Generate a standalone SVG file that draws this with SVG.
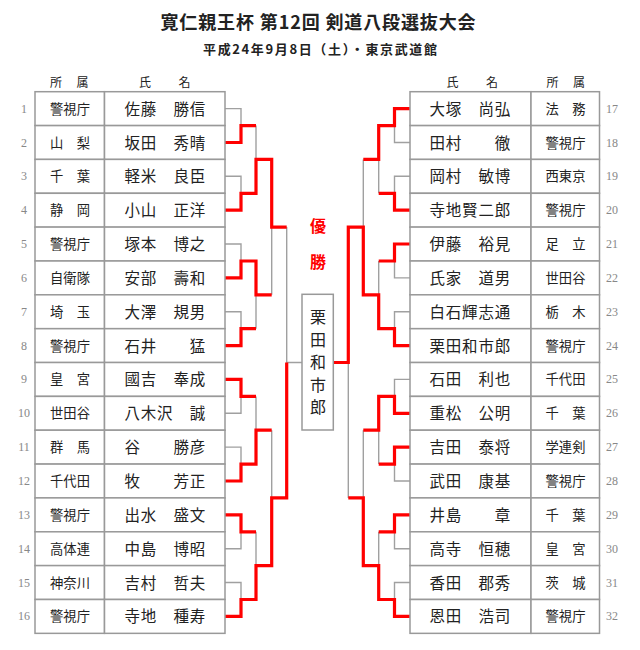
<svg xmlns="http://www.w3.org/2000/svg" width="640" height="650" viewBox="0 0 640 650">
<style>
text{font-family:"Noto Sans CJK JP","Noto Sans CJK SC",sans-serif;fill:#222}
.title{font-size:18px;font-weight:bold}
.sub{font-size:13px;font-weight:bold}
.hd{font-size:12px;letter-spacing:1.2px}
.cell{fill:#fff;stroke:#999;stroke-width:1.5}
.num{font-family:"Liberation Serif",serif;font-size:12px;fill:#888;text-anchor:middle}
.aff{font-size:13.3px;text-anchor:middle}
.nm{font-size:15.5px;letter-spacing:0.8px}
.g{fill:none;stroke:#a0a0a0;stroke-width:1.4}
.r{fill:none;stroke:#ff0000;stroke-width:3.2;stroke-linejoin:miter}
.win{font-size:16px;fill:#ff0000;font-weight:bold;text-anchor:middle}
.ch{font-size:16px;text-anchor:middle}
</style>
<rect width="640" height="650" fill="#fff"/>
<text class="title" x="318" y="28.5" text-anchor="middle" textLength="315" lengthAdjust="spacing">寛仁親王杯 第12回 剣道八段選抜大会</text>
<text class="sub" x="320" y="54" text-anchor="middle" textLength="234" lengthAdjust="spacing">平成24年9月8日（土）・東京武道館</text>
<g id="headers">
<text class="hd" x="50" y="87">所　属</text>
<text class="hd" x="139" y="87">氏　　名</text>
<text class="hd" x="446.5" y="87">氏　　名</text>
<text class="hd" x="546.5" y="87">所　属</text>
</g>
<g id="connectors">
<path class="g" d="M225,108.6H241V142.5H225M225,176.3H241V210.2H225M225,244H241V277.9H225M225,311.7H241V345.6H225M225,379.4H241V413.3H225M225,447.1H241V481H225M225,514.8H241V548.7H225M225,582.5H241V616.4H225M256,125.6V193.3M256,261V328.7M256,396.4V464.1M256,531.8V599.5M271.7,159.4V294.8M271.7,430.2V565.6M286.7,227.1V497.9M286.7,362.5H302"/>
<path class="g" d="M410,108.6H394.5V142.5H410M410,176.3H394.5V210.2H410M410,244H394.5V277.9H410M410,311.7H394.5V345.6H410M410,379.4H394.5V413.3H410M410,447.1H394.5V481H410M410,514.8H394.5V548.7H410M410,582.5H394.5V616.4H410M378.7,125.6V193.3M378.7,261V328.7M378.7,396.4V464.1M378.7,531.8V599.5M363.3,159.4V294.8M363.3,430.2V565.6M348.3,227.1V497.9"/>
<path class="r" d="M225,142.5H241V125.6H256"/>
<path class="r" d="M225,210.2H241V193.3H256V159.4H271.7V227.1H286.7"/>
<path class="r" d="M225,277.9H241V261H256V294.8H271.7"/>
<path class="r" d="M225,345.6H241V328.7H256"/>
<path class="r" d="M225,379.4H241V396.4H256"/>
<path class="r" d="M225,481H241V464.1H256V430.2H271.7"/>
<path class="r" d="M225,514.8H241V531.8H256"/>
<path class="r" d="M225,616.4H241V599.5H256V565.6H271.7V497.9H286.7V362.5"/>
<path class="r" d="M410,108.6H394.5V125.6H378.7V159.4H363.3"/>
<path class="r" d="M410,210.2H394.5V193.3H378.7"/>
<path class="r" d="M410,244H394.5V261H378.7"/>
<path class="r" d="M410,345.6H394.5V328.7H378.7V294.8H363.3V227.1H348.3V362.5H333.3"/>
<path class="r" d="M410,413.3H394.5V396.4H378.7V430.2H363.3"/>
<path class="r" d="M410,447.1H394.5V464.1H378.7"/>
<path class="r" d="M410,514.8H394.5V531.8H378.7"/>
<path class="r" d="M410,616.4H394.5V599.5H378.7V565.6H363.3V497.9H348.3"/>
</g>
<g id="winner-label"><text class="win" x="318" y="231.5">優</text><text class="win" x="318" y="267.5">勝</text></g>
<g id="champion">
<rect class="cell" x="302" y="294.3" width="31.3" height="135.7"/>
<text class="ch" x="318" y="323">栗</text><text class="ch" x="318" y="345.5">田</text><text class="ch" x="318" y="368">和</text><text class="ch" x="318" y="390.5">市</text><text class="ch" x="318" y="413">郎</text>
</g>
<g id="p1"><rect class="cell" x="35" y="91.7" width="69.5" height="33.85"/><rect class="cell" x="104.5" y="91.7" width="120.5" height="33.85"/><text class="num" x="24" y="112.6">1</text><text class="aff" x="70" y="113.6">警視庁</text><text class="nm" x="124.5" y="114.6">佐藤　勝信</text></g>
<g id="p2"><rect class="cell" x="35" y="125.6" width="69.5" height="33.85"/><rect class="cell" x="104.5" y="125.6" width="120.5" height="33.85"/><text class="num" x="24" y="146.5">2</text><text class="aff" x="70" y="147.5">山　梨</text><text class="nm" x="124.5" y="148.5">坂田　秀晴</text></g>
<g id="p3"><rect class="cell" x="35" y="159.4" width="69.5" height="33.85"/><rect class="cell" x="104.5" y="159.4" width="120.5" height="33.85"/><text class="num" x="24" y="180.3">3</text><text class="aff" x="70" y="181.3">千　葉</text><text class="nm" x="124.5" y="182.3">軽米　良臣</text></g>
<g id="p4"><rect class="cell" x="35" y="193.3" width="69.5" height="33.85"/><rect class="cell" x="104.5" y="193.3" width="120.5" height="33.85"/><text class="num" x="24" y="214.2">4</text><text class="aff" x="70" y="215.2">静　岡</text><text class="nm" x="124.5" y="216.2">小山　正洋</text></g>
<g id="p5"><rect class="cell" x="35" y="227.1" width="69.5" height="33.85"/><rect class="cell" x="104.5" y="227.1" width="120.5" height="33.85"/><text class="num" x="24" y="248">5</text><text class="aff" x="70" y="249">警視庁</text><text class="nm" x="124.5" y="250">塚本　博之</text></g>
<g id="p6"><rect class="cell" x="35" y="261" width="69.5" height="33.85"/><rect class="cell" x="104.5" y="261" width="120.5" height="33.85"/><text class="num" x="24" y="281.9">6</text><text class="aff" x="70" y="282.9">自衛隊</text><text class="nm" x="124.5" y="283.9">安部　壽和</text></g>
<g id="p7"><rect class="cell" x="35" y="294.8" width="69.5" height="33.85"/><rect class="cell" x="104.5" y="294.8" width="120.5" height="33.85"/><text class="num" x="24" y="315.7">7</text><text class="aff" x="70" y="316.7">埼　玉</text><text class="nm" x="124.5" y="317.7">大澤　規男</text></g>
<g id="p8"><rect class="cell" x="35" y="328.7" width="69.5" height="33.85"/><rect class="cell" x="104.5" y="328.7" width="120.5" height="33.85"/><text class="num" x="24" y="349.6">8</text><text class="aff" x="70" y="350.6">警視庁</text><text class="nm" x="124.5" y="351.6">石井　　猛</text></g>
<g id="p9"><rect class="cell" x="35" y="362.5" width="69.5" height="33.85"/><rect class="cell" x="104.5" y="362.5" width="120.5" height="33.85"/><text class="num" x="24" y="383.4">9</text><text class="aff" x="70" y="384.4">皇　宮</text><text class="nm" x="124.5" y="385.4">國吉　奉成</text></g>
<g id="p10"><rect class="cell" x="35" y="396.4" width="69.5" height="33.85"/><rect class="cell" x="104.5" y="396.4" width="120.5" height="33.85"/><text class="num" x="24" y="417.3">10</text><text class="aff" x="70" y="418.3">世田谷</text><text class="nm" x="124.5" y="419.3">八木沢　誠</text></g>
<g id="p11"><rect class="cell" x="35" y="430.2" width="69.5" height="33.85"/><rect class="cell" x="104.5" y="430.2" width="120.5" height="33.85"/><text class="num" x="24" y="451.1">11</text><text class="aff" x="70" y="452.1">群　馬</text><text class="nm" x="124.5" y="453.1">谷　　勝彦</text></g>
<g id="p12"><rect class="cell" x="35" y="464.1" width="69.5" height="33.85"/><rect class="cell" x="104.5" y="464.1" width="120.5" height="33.85"/><text class="num" x="24" y="485">12</text><text class="aff" x="70" y="486">千代田</text><text class="nm" x="124.5" y="487">牧　　芳正</text></g>
<g id="p13"><rect class="cell" x="35" y="497.9" width="69.5" height="33.85"/><rect class="cell" x="104.5" y="497.9" width="120.5" height="33.85"/><text class="num" x="24" y="518.8">13</text><text class="aff" x="70" y="519.8">警視庁</text><text class="nm" x="124.5" y="520.8">出水　盛文</text></g>
<g id="p14"><rect class="cell" x="35" y="531.8" width="69.5" height="33.85"/><rect class="cell" x="104.5" y="531.8" width="120.5" height="33.85"/><text class="num" x="24" y="552.7">14</text><text class="aff" x="70" y="553.7">高体連</text><text class="nm" x="124.5" y="554.7">中島　博昭</text></g>
<g id="p15"><rect class="cell" x="35" y="565.6" width="69.5" height="33.85"/><rect class="cell" x="104.5" y="565.6" width="120.5" height="33.85"/><text class="num" x="24" y="586.5">15</text><text class="aff" x="70" y="587.5">神奈川</text><text class="nm" x="124.5" y="588.5">吉村　哲夫</text></g>
<g id="p16"><rect class="cell" x="35" y="599.5" width="69.5" height="33.85"/><rect class="cell" x="104.5" y="599.5" width="120.5" height="33.85"/><text class="num" x="24" y="620.4">16</text><text class="aff" x="70" y="621.4">警視庁</text><text class="nm" x="124.5" y="622.4">寺地　種寿</text></g>
<g id="p17"><rect class="cell" x="410" y="91.7" width="121" height="33.85"/><rect class="cell" x="531" y="91.7" width="68.5" height="33.85"/><text class="num" x="612" y="112.6">17</text><text class="aff" x="565.5" y="113.6">法　務</text><text class="nm" x="429.5" y="114.6">大塚　尚弘</text></g>
<g id="p18"><rect class="cell" x="410" y="125.6" width="121" height="33.85"/><rect class="cell" x="531" y="125.6" width="68.5" height="33.85"/><text class="num" x="612" y="146.5">18</text><text class="aff" x="565.5" y="147.5">警視庁</text><text class="nm" x="429.5" y="148.5">田村　　徹</text></g>
<g id="p19"><rect class="cell" x="410" y="159.4" width="121" height="33.85"/><rect class="cell" x="531" y="159.4" width="68.5" height="33.85"/><text class="num" x="612" y="180.3">19</text><text class="aff" x="565.5" y="181.3">西東京</text><text class="nm" x="429.5" y="182.3">岡村　敏博</text></g>
<g id="p20"><rect class="cell" x="410" y="193.3" width="121" height="33.85"/><rect class="cell" x="531" y="193.3" width="68.5" height="33.85"/><text class="num" x="612" y="214.2">20</text><text class="aff" x="565.5" y="215.2">警視庁</text><text class="nm" x="429.5" y="216.2">寺地賢二郎</text></g>
<g id="p21"><rect class="cell" x="410" y="227.1" width="121" height="33.85"/><rect class="cell" x="531" y="227.1" width="68.5" height="33.85"/><text class="num" x="612" y="248">21</text><text class="aff" x="565.5" y="249">足　立</text><text class="nm" x="429.5" y="250">伊藤　裕見</text></g>
<g id="p22"><rect class="cell" x="410" y="261" width="121" height="33.85"/><rect class="cell" x="531" y="261" width="68.5" height="33.85"/><text class="num" x="612" y="281.9">22</text><text class="aff" x="565.5" y="282.9">世田谷</text><text class="nm" x="429.5" y="283.9">氏家　道男</text></g>
<g id="p23"><rect class="cell" x="410" y="294.8" width="121" height="33.85"/><rect class="cell" x="531" y="294.8" width="68.5" height="33.85"/><text class="num" x="612" y="315.7">23</text><text class="aff" x="565.5" y="316.7">栃　木</text><text class="nm" x="429.5" y="317.7">白石輝志通</text></g>
<g id="p24"><rect class="cell" x="410" y="328.7" width="121" height="33.85"/><rect class="cell" x="531" y="328.7" width="68.5" height="33.85"/><text class="num" x="612" y="349.6">24</text><text class="aff" x="565.5" y="350.6">警視庁</text><text class="nm" x="429.5" y="351.6">栗田和市郎</text></g>
<g id="p25"><rect class="cell" x="410" y="362.5" width="121" height="33.85"/><rect class="cell" x="531" y="362.5" width="68.5" height="33.85"/><text class="num" x="612" y="383.4">25</text><text class="aff" x="565.5" y="384.4">千代田</text><text class="nm" x="429.5" y="385.4">石田　利也</text></g>
<g id="p26"><rect class="cell" x="410" y="396.4" width="121" height="33.85"/><rect class="cell" x="531" y="396.4" width="68.5" height="33.85"/><text class="num" x="612" y="417.3">26</text><text class="aff" x="565.5" y="418.3">千　葉</text><text class="nm" x="429.5" y="419.3">重松　公明</text></g>
<g id="p27"><rect class="cell" x="410" y="430.2" width="121" height="33.85"/><rect class="cell" x="531" y="430.2" width="68.5" height="33.85"/><text class="num" x="612" y="451.1">27</text><text class="aff" x="565.5" y="452.1">学連剣</text><text class="nm" x="429.5" y="453.1">吉田　泰将</text></g>
<g id="p28"><rect class="cell" x="410" y="464.1" width="121" height="33.85"/><rect class="cell" x="531" y="464.1" width="68.5" height="33.85"/><text class="num" x="612" y="485">28</text><text class="aff" x="565.5" y="486">警視庁</text><text class="nm" x="429.5" y="487">武田　康基</text></g>
<g id="p29"><rect class="cell" x="410" y="497.9" width="121" height="33.85"/><rect class="cell" x="531" y="497.9" width="68.5" height="33.85"/><text class="num" x="612" y="518.8">29</text><text class="aff" x="565.5" y="519.8">千　葉</text><text class="nm" x="429.5" y="520.8">井島　　章</text></g>
<g id="p30"><rect class="cell" x="410" y="531.8" width="121" height="33.85"/><rect class="cell" x="531" y="531.8" width="68.5" height="33.85"/><text class="num" x="612" y="552.7">30</text><text class="aff" x="565.5" y="553.7">皇　宮</text><text class="nm" x="429.5" y="554.7">高寺　恒穂</text></g>
<g id="p31"><rect class="cell" x="410" y="565.6" width="121" height="33.85"/><rect class="cell" x="531" y="565.6" width="68.5" height="33.85"/><text class="num" x="612" y="586.5">31</text><text class="aff" x="565.5" y="587.5">茨　城</text><text class="nm" x="429.5" y="588.5">香田　郡秀</text></g>
<g id="p32"><rect class="cell" x="410" y="599.5" width="121" height="33.85"/><rect class="cell" x="531" y="599.5" width="68.5" height="33.85"/><text class="num" x="612" y="620.4">32</text><text class="aff" x="565.5" y="621.4">警視庁</text><text class="nm" x="429.5" y="622.4">恩田　浩司</text></g>
</svg>
